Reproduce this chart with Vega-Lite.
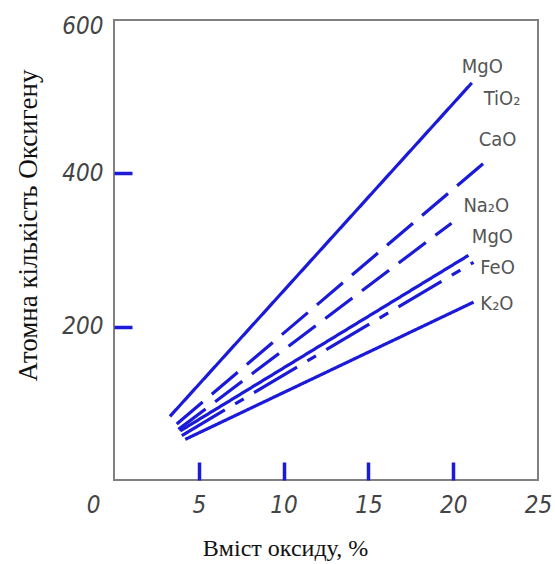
{
  "$schema": "https://vega.github.io/schema/vega-lite/v6.json",
  "width": 424,
  "height": 460,
  "autosize": {"type": "none"},
  "padding": {"left": 114, "top": 20, "right": 17, "bottom": 84},
  "background": "white",
  "config": {
    "view": {"stroke": "#808080", "strokeWidth": 2},
    "axis": {
      "grid": false,
      "domain": false,
      "labelFont": "DejaVu Sans Condensed, DejaVu Sans, sans-serif",
      "labelFontStyle": "italic",
      "labelFontSize": 24,
      "labelColor": "#444444",
      "tickWidth": 3.5,
      "tickSize": -18,
      "labelFlush": false,
      "titleFont": "Liberation Serif, DejaVu Serif, serif",
      "titleFontWeight": "normal",
      "titleColor": "#111111"
    }
  },
  "datasets": {
    "lines": [
      {"series": "MgO", "x": 3.3, "y": 83},
      {"series": "MgO", "x": 21.1, "y": 518},
      {"series": "CaO", "x": 3.7, "y": 73},
      {"series": "CaO", "x": 22.1, "y": 419},
      {"series": "Na2O", "x": 3.8, "y": 66},
      {"series": "Na2O", "x": 19.9, "y": 335},
      {"series": "MgO (2)", "x": 3.9, "y": 64},
      {"series": "MgO (2)", "x": 20.9, "y": 293},
      {"series": "FeO", "x": 4.0, "y": 58},
      {"series": "FeO", "x": 21.2, "y": 284},
      {"series": "K2O", "x": 4.2, "y": 53},
      {"series": "K2O", "x": 21.2, "y": 232}
    ],
    "labels": [
      {"label": "MgO", "x": 20.5, "y": 539},
      {"label": "TiO₂", "x": 21.8, "y": 497},
      {"label": "CaO", "x": 21.5, "y": 443},
      {"label": "Na₂O", "x": 20.6, "y": 358},
      {"label": "MgO", "x": 21.1, "y": 317},
      {"label": "FeO", "x": 21.6, "y": 277},
      {"label": "K₂O", "x": 21.6, "y": 229}
    ]
  },
  "layer": [
    {
      "data": {"name": "lines"},
      "mark": {"type": "line", "strokeWidth": 3.2, "color": "#1a1ad8", "strokeCap": "butt"},
      "encoding": {
        "x": {
          "field": "x", "type": "quantitative",
          "scale": {"domain": [0, 25], "nice": false},
          "axis": {
            "values": [0, 5, 10, 15, 20, 25],
            "title": "Вміст оксиду, %",
            "titleFontSize": 24,
            "titleX": 171,
            "titleY": 68,
            "titleBaseline": "middle",
            "labelPadding": 31,
            "labelOffset": {"condition": {"test": "datum.value == 0", "value": -21}, "value": 0},
            "tickColor": {"condition": {"test": "datum.value == 0 || datum.value == 25", "value": "transparent"}, "value": "#1a1ad8"}
          }
        },
        "y": {
          "field": "y", "type": "quantitative",
          "scale": {"domain": [0, 600], "nice": false},
          "axis": {
            "values": [200, 400, 600],
            "title": "Атомна кількість Оксигену",
            "titleFontSize": 27,
            "titleAngle": -90,
            "titleX": -86,
            "titleY": 205,
            "titleAlign": "center",
            "titleBaseline": "middle",
            "labelPadding": 29,
            "labelOffset": {"condition": {"test": "datum.value == 600", "value": 6}, "value": 0},
            "tickColor": {"condition": {"test": "datum.value == 600", "value": "transparent"}, "value": "#1a1ad8"}
          }
        },
        "detail": {"field": "series"},
        "strokeDash": {
          "field": "series", "type": "nominal", "legend": null,
          "scale": {
            "domain": ["MgO", "CaO", "Na2O", "MgO (2)", "FeO", "K2O"],
            "range": [[1, 0], [34, 12], [34, 12], [1, 0], [50, 12, 10, 12], [1, 0]]
          }
        }
      }
    },
    {
      "data": {"name": "labels"},
      "mark": {
        "type": "text", "align": "left", "baseline": "middle",
        "font": "DejaVu Sans Condensed, DejaVu Sans, sans-serif",
        "fontSize": 20, "color": "#555555", "clip": false
      },
      "encoding": {
        "x": {"field": "x", "type": "quantitative"},
        "y": {"field": "y", "type": "quantitative"},
        "text": {"field": "label"}
      }
    }
  ]
}
